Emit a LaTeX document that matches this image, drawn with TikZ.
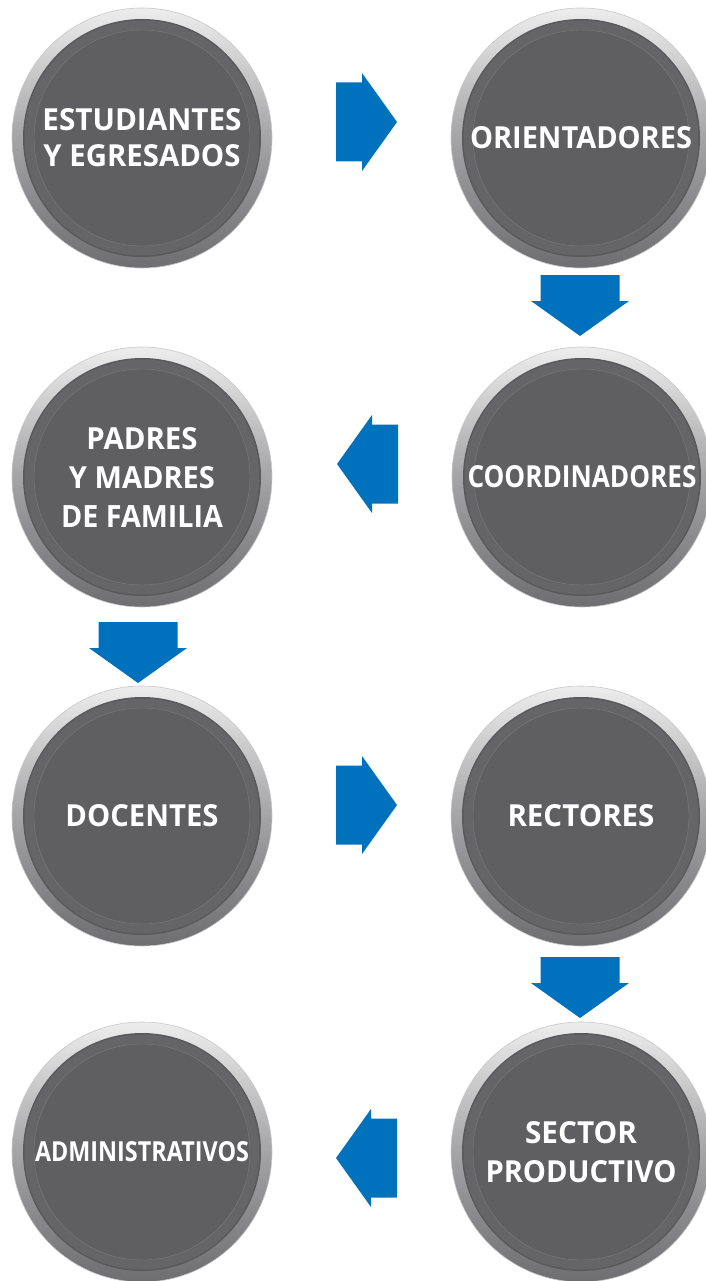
\documentclass[tikz,border=0pt]{standalone}
\usepackage{fontspec}
\setmainfont{Open Sans}
\usepackage{graphicx}
\definecolor{discfill}{HTML}{5F5F62}
\definecolor{ringfill}{HTML}{656568}
\definecolor{ringedge}{HTML}{59595B}
\definecolor{rimtop}{HTML}{EDEDED}
\definecolor{rimmid}{HTML}{A4A4A6}
\definecolor{rimbot}{HTML}{6E6E70}
\definecolor{rimline}{HTML}{C8C8C8}
\definecolor{arrowblue}{HTML}{0071BC}
\newcommand\tl[2]{\resizebox{#1pt}{22pt}{#2}}
\begin{document}
\begin{tikzpicture}[x=1pt,y=-1pt,
  bub/.style={circle, minimum size=260pt, inner sep=0pt,
    top color=rimtop, bottom color=rimbot, middle color=rimmid,
    draw=rimline, line width=0.6pt, text=white, align=center,
    font=\bfseries\fontsize{30}{36}\selectfont,
    path picture={
      \fill[ringedge] (path picture bounding box.center) circle[radius=119pt];
      \fill[ringfill] (path picture bounding box.center) circle[radius=117.5pt];
      \fill[discfill] (path picture bounding box.center) circle[radius=108pt];
      \draw[ringfill!85!white, line width=0.4pt] (path picture bounding box.center) circle[radius=108pt];
    }},
  arrowfill/.style={fill=arrowblue, draw=none},
  rarr/.pic={\fill[arrowfill] (0,0) -- (-35,-49) -- (-35,-39.5) -- (-61,-39.5) -- (-61,39.5) -- (-35,39.5) -- (-35,49) -- cycle;},
  larr/.pic={\fill[arrowfill] (0,0) -- (35,-49) -- (35,-39.5) -- (61,-39.5) -- (61,39.5) -- (35,39.5) -- (35,49) -- cycle;},
  darr/.pic={\fill[arrowfill] (0,0) -- (-49,-35) -- (-39.5,-35) -- (-39.5,-61) -- (39.5,-61) -- (39.5,-35) -- (49,-35) -- cycle;}
]
\useasboundingbox (0,0) rectangle (705,1281);
\fill[white] (0,0) rectangle (705,1281);

\node[bub] (est) at (142,138) {\tl{199}{ESTUDIANTES}\\\tl{197}{Y EGRESADOS}};
\node[bub] (ori) at (581,138) {\tl{222}{ORIENTADORES}};
\node[bub] (coo) at (582,477) {\tl{229}{COORDINADORES}};
\node[bub] (pad) at (142,477) {\tl{111}{PADRES}\\[3pt]\tl{146}{Y MADRES}\\[3pt]\tl{162}{DE FAMILIA}};
\node[bub] (doc) at (142,816) {\tl{153}{DOCENTES}};
\node[bub] (rec) at (581,816) {\tl{147}{RECTORES}};
\node[bub] (adm) at (142,1152) {\resizebox{214pt}{20pt}{ADMINISTRATIVOS}};
\node[bub] (sec) at (581,1152) {\tl{112}{SECTOR}\\[3pt]\tl{191}{PRODUCTIVO}};

\coordinate (t1) at (397,122);
\coordinate (t2) at (580,336);
\coordinate (t3) at (337,464);
\coordinate (t4) at (138,683);
\coordinate (t5) at (397,805);
\coordinate (t6) at (580,1018);
\coordinate (t7) at (336,1158);

\pic at (t1) {rarr};
\pic at (t2) {darr};
\pic at (t3) {larr};
\pic at (t4) {darr};
\pic at (t5) {rarr};
\pic at (t6) {darr};
\pic at (t7) {larr};
\end{tikzpicture}
\end{document}
